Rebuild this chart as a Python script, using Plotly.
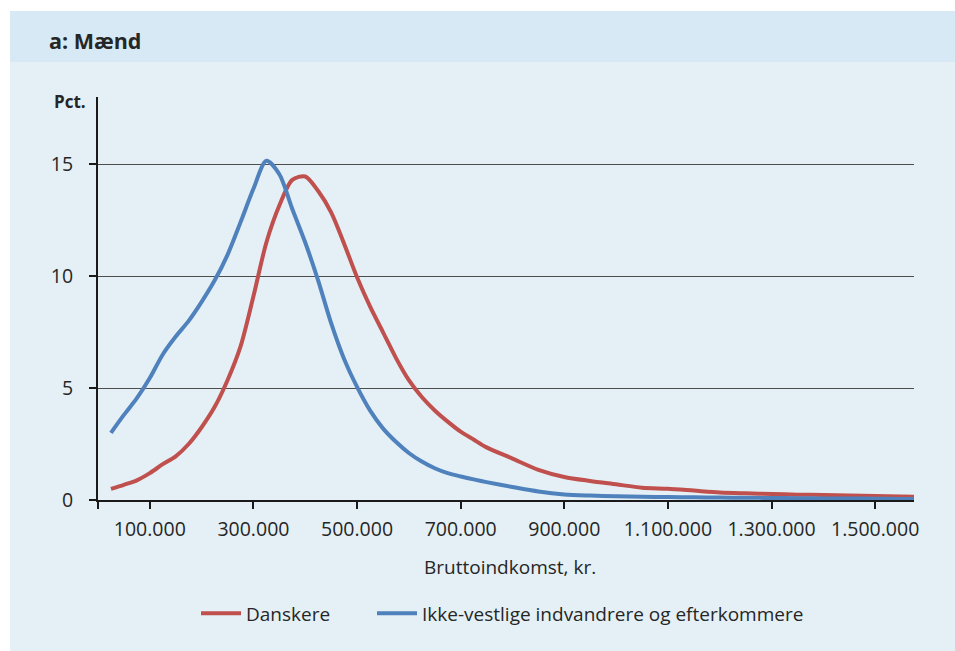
import plotly.graph_objects as go

# Income (kr.) at which each share is read
income = [25000, 50000, 75000, 100000, 125000, 150000, 175000, 200000, 225000, 250000,
          275000, 300000, 325000, 350000, 375000, 400000, 425000, 450000, 475000, 500000,
          525000, 550000, 575000, 600000, 625000, 650000, 675000, 700000, 725000, 750000,
          800000, 850000, 900000, 950000, 1000000, 1050000, 1100000, 1150000, 1200000,
          1250000, 1300000, 1350000, 1400000, 1450000, 1500000, 1550000, 1575000]

danskere = [0.5, 0.68, 0.88, 1.2, 1.6, 1.95, 2.5, 3.25, 4.15, 5.35,
            6.85, 9.1, 11.5, 13.15, 14.3, 14.45, 13.8, 12.85, 11.45, 9.95,
            8.65, 7.5, 6.35, 5.35, 4.6, 4.0, 3.5, 3.05, 2.7, 2.35,
            1.85, 1.35, 1.03, 0.85, 0.7, 0.55, 0.5, 0.42, 0.34,
            0.3, 0.27, 0.24, 0.22, 0.2, 0.18, 0.16, 0.15]

ikke_vestlige = [3.0, 3.8, 4.55, 5.45, 6.5, 7.3, 8.0, 8.85, 9.8, 10.95,
                 12.4, 13.9, 15.15, 14.55, 13.0, 11.5, 9.8, 7.9, 6.3, 5.05,
                 4.0, 3.2, 2.6, 2.1, 1.72, 1.42, 1.2, 1.05, 0.92, 0.8,
                 0.58, 0.38, 0.25, 0.2, 0.17, 0.15, 0.13, 0.12, 0.11,
                 0.1, 0.09, 0.08, 0.07, 0.07, 0.06, 0.05, 0.05]

x_tickvals = [0, 100000, 300000, 500000, 700000, 900000, 1100000, 1300000, 1500000]
x_ticktext = ["", "100.000", "300.000", "500.000", "700.000", "900.000",
              "1.100.000", "1.300.000", "1.500.000"]
y_tickvals = [0, 5, 10, 15]

title_text = "a: Mænd"
y_label = "Pct."
x_label = "Bruttoindkomst, kr."

RED = "#C0504D"
BLUE = "#4F81BD"
TXT = "#262626"
FONT = "Open Sans"

# page body margin is removed below, so the figure fills the window
FIG_W, FIG_H = 955, 651

# plot area in page pixels
PL, PR, PT, PB = 98, 914, 97, 500.5
L = PL
R = FIG_W - PR
T = PT
B = FIG_H - PB
W = PR - PL
H = PB - PT


def px(xp):
    return (xp - PL) / W


def py(yp):
    return (PB - yp) / H


fig = go.Figure()
fig.add_trace(go.Scatter(x=income, y=danskere, mode="lines", name="Danskere",
                         line=dict(color=RED, width=4, shape="spline", smoothing=0.8),
                         legend="legend"))
fig.add_trace(go.Scatter(x=income, y=ikke_vestlige, mode="lines",
                         name="Ikke-vestlige indvandrere og efterkommere",
                         line=dict(color=BLUE, width=4, shape="spline", smoothing=0.8),
                         legend="legend2"))

shapes = [
    dict(type="rect", xref="paper", yref="paper", x0=px(10), x1=px(970), y0=py(670), y1=py(11),
         fillcolor="#E4F0F5", line=dict(width=0), layer="below"),
    dict(type="rect", xref="paper", yref="paper", x0=px(10), x1=px(970), y0=py(62), y1=py(11),
         fillcolor="#D6E9F4", line=dict(width=0), layer="below"),
]

leg_common = dict(orientation="h", yanchor="middle", y=py(614), xanchor="left",
                  font=dict(family=FONT, size=19, color=TXT), bgcolor="rgba(0,0,0,0)",
                  borderwidth=0, itemwidth=40)

fig.update_layout(
    width=FIG_W, height=FIG_H,
    margin=dict(l=L, r=R, t=T, b=B),
    paper_bgcolor="white",
    plot_bgcolor="rgba(0,0,0,0)",
    shapes=shapes,
    font=dict(family=FONT, color=TXT, size=17),
    showlegend=True,
    legend=dict(x=px(196), **leg_common),
    legend2=dict(x=px(372), **leg_common),
    annotations=[
        dict(text="<b>" + title_text + "</b>", xref="paper", yref="paper",
             x=px(47), y=py(40), xanchor="left", yanchor="middle", showarrow=False,
             font=dict(family=FONT, size=21.5, color=TXT)),
        dict(text="<b>" + y_label + "</b>", xref="paper", yref="paper",
             x=px(52), y=py(102), xanchor="left", yanchor="middle", showarrow=False,
             font=dict(family=FONT, size=17, color=TXT)),
        dict(text=x_label, xref="paper", yref="paper",
             x=px(510), y=py(568), xanchor="center", yanchor="middle", showarrow=False,
             font=dict(family=FONT, size=19, color=TXT)),
    ],
)

fig.update_xaxes(range=[0, 1575000], tickmode="array", tickvals=x_tickvals, ticktext=x_ticktext,
                 showgrid=False, zeroline=False, showline=True, linecolor="#1a1a1a", linewidth=2,
                 ticks="outside", ticklen=7, tickwidth=2, tickcolor="#1a1a1a",
                 tickfont=dict(family=FONT, size=19.5, color=TXT), ticklabelstandoff=4)
fig.update_yaxes(range=[0, 18], tickmode="array", tickvals=y_tickvals,
                 showgrid=True, gridcolor="#4d4d4d", gridwidth=1, zeroline=False,
                 showline=True, linecolor="#1a1a1a", linewidth=2,
                 ticks="outside", ticklen=7, tickwidth=2, tickcolor="#1a1a1a",
                 tickfont=dict(family=FONT, size=19.5, color=TXT), ticklabelstandoff=12)

fig.write_html(
    "out.html",
    config={"displayModeBar": False},
    post_script="document.body.style.margin='0';document.body.style.overflow='hidden';",
)
